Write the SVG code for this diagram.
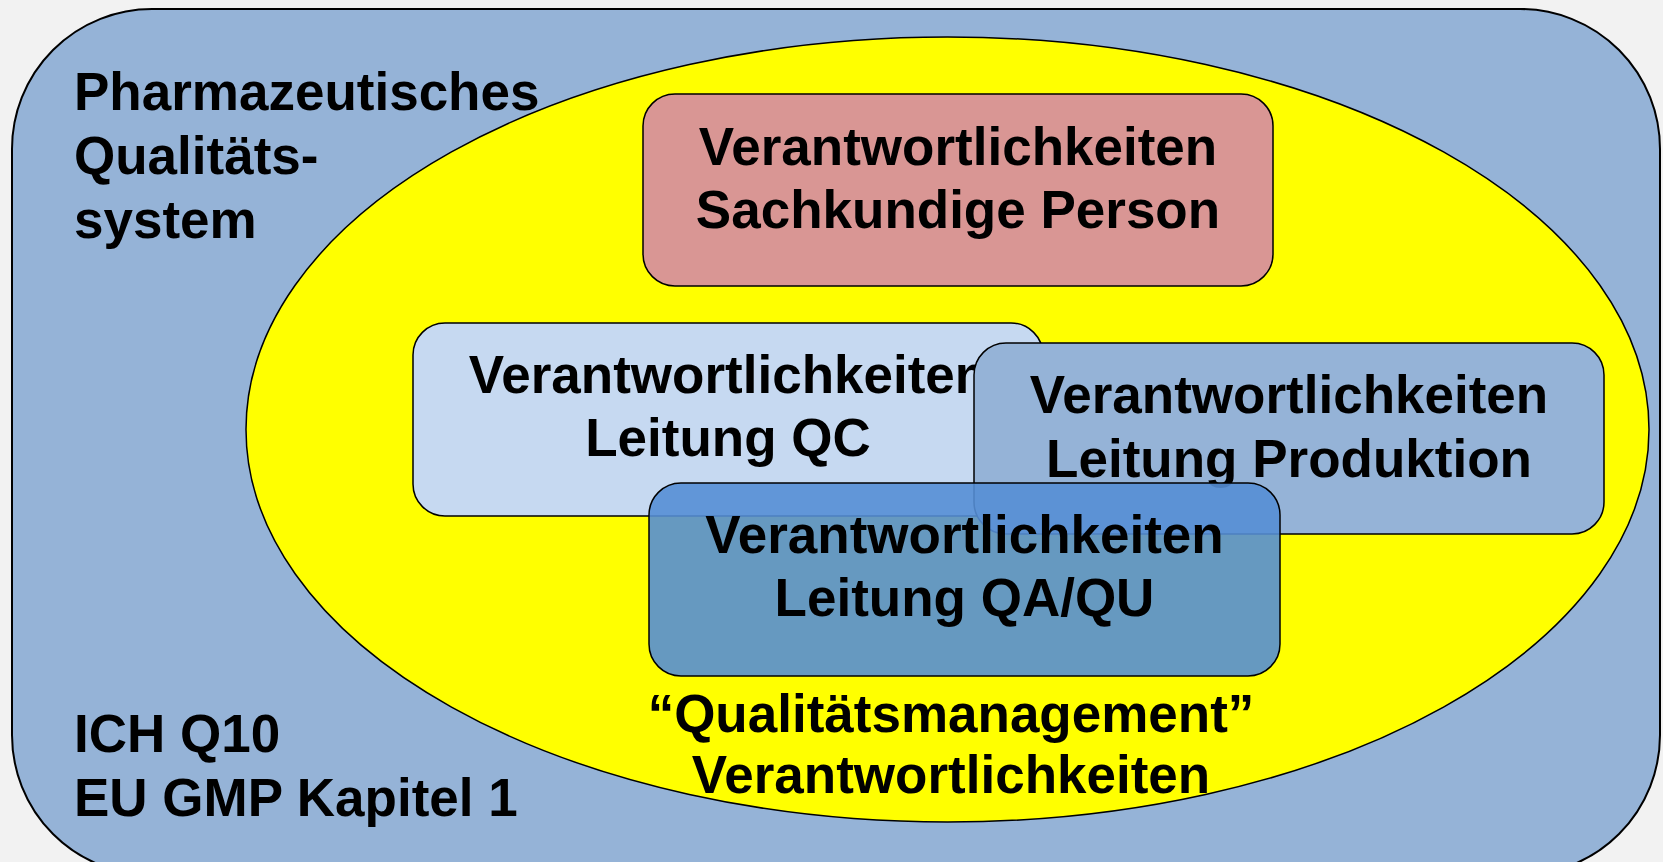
<svg xmlns="http://www.w3.org/2000/svg" width="1663" height="862" viewBox="0 0 1663 862">
<style>
.t{font-family:"Liberation Sans",Arial,sans-serif;font-weight:bold;font-size:53px;fill:#000}
.c{text-anchor:middle}
.box{stroke:#000;stroke-width:1.5}
</style>
<rect x="0" y="0" width="1663" height="862" fill="#F2F2F2"/>
<g id="system">
<rect x="12" y="9" width="1648" height="866" rx="140" ry="140" fill="#95B3D7" stroke="#000" stroke-width="2"/>
<text class="t" x="74" y="110">Pharmazeutisches</text>
<text class="t" x="74" y="174">Qualitäts-</text>
<text class="t" x="74" y="238">system</text>
<text class="t" x="74" y="752">ICH Q10</text>
<text class="t" x="74" y="816">EU GMP Kapitel 1</text>
</g>
<g id="qm">
<ellipse cx="947.5" cy="429.5" rx="701.5" ry="392.5" fill="#FFFF00" stroke="#000" stroke-width="1.5"/>
</g>
<g id="sachkundige">
<rect class="box" x="643" y="94" width="630" height="192" rx="32" fill="#D99694"/>
<text class="t c" x="958" y="165">Verantwortlichkeiten</text>
<text class="t c" x="958" y="228">Sachkundige Person</text>
</g>
<g id="qc">
<rect class="box" x="413" y="323" width="630" height="193" rx="32" fill="#C6D9F1"/>
<text class="t c" x="728" y="393">Verantwortlichkeiten</text>
<text class="t c" x="728" y="456">Leitung QC</text>
</g>
<g id="produktion">
<rect class="box" x="974" y="343" width="630" height="191" rx="32" fill="#95B3D7"/>
<text class="t c" x="1289" y="413">Verantwortlichkeiten</text>
<text class="t c" x="1289" y="477">Leitung Produktion</text>
</g>
<g id="qa">
<rect class="box" x="649" y="483" width="631" height="193" rx="32" fill="#558ED5" fill-opacity="0.9"/>
<text class="t c" x="964.5" y="553">Verantwortlichkeiten</text>
<text class="t c" x="964.5" y="616">Leitung QA/QU</text>
</g>
<g id="qm-label">
<text class="t c" x="951" y="732">“Qualitätsmanagement”</text>
<text class="t c" x="951" y="793">Verantwortlichkeiten</text>
</g>
<g id="connectors"/>
</svg>
